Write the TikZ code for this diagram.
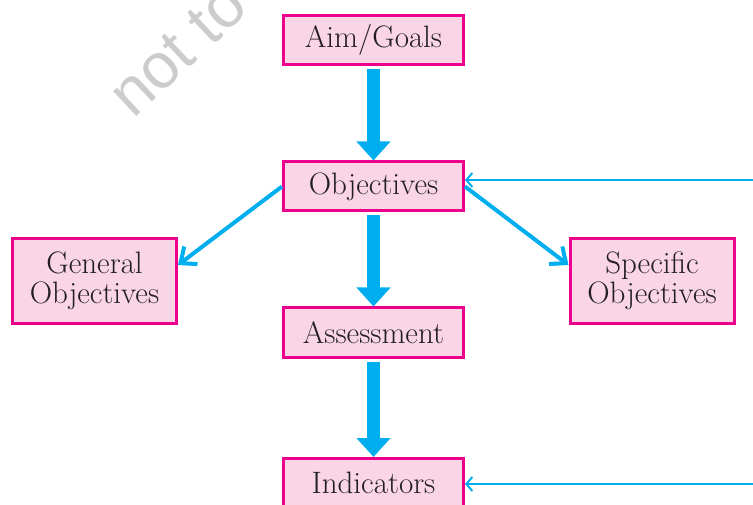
\documentclass[tikz,border=0pt]{standalone}
\usepackage{fontspec}
\newfontfamily\wmfont{Liberation Sans}
\usetikzlibrary{positioning,arrows.meta,calc}
\definecolor{boxpink}{HTML}{F9D5E6}
\definecolor{boxrim}{HTML}{EC008C}
\definecolor{flowblue}{HTML}{00AEEF}
\definecolor{inkgray}{HTML}{231F20}
\tikzset{
  stagebox/.style={draw=boxrim,fill=boxpink,line width=3pt,
    minimum width=180pt,minimum height=49pt,inner sep=2pt,align=center,
    text=inkgray,font=\fontsize{31}{30}\selectfont},
  sidebox/.style={stagebox,minimum width=164pt,minimum height=85pt},
  bigflow/.style={flowblue,line width=13pt,
    -{Triangle[width=33pt,length=19pt]},shorten <=3pt},
  branch/.style={flowblue,line width=4pt,
    -{Straight Barb[length=13pt,width=22pt]}},
  feedback/.style={flowblue,line width=2pt,
    -{Straight Barb[length=6pt,width=14pt]}},
  wmark/.style={rotate=43,anchor=base west,inner sep=0pt,text=black!20,
    font=\wmfont\fontsize{64}{64}\selectfont},
}

\begin{document}
\begin{tikzpicture}[x=1pt,y=-1pt]
  \useasboundingbox (0,0) rectangle (753,505);
  \node[wmark] (mark) at (133,120) {not to};
  % main column
  \node[stagebox] (aim) at (373.5,40) {Aim/Goals};
  \node[stagebox,below=94.5pt of aim] (obj) {Objectives};
  \node[stagebox,below=94pt of obj] (assess) {Assessment};
  \node[stagebox,below=98.5pt of assess] (ind) {Indicators};
  % the two kinds of objectives
  \node[sidebox] (gen) at (94.5,281) {General\\Objectives};
  \node[sidebox] (spec) at (652,281) {Specific\\Objectives};
  \draw[bigflow] (aim) -- (obj);
  \draw[bigflow] (obj) -- (assess);
  \draw[bigflow] (assess) -- (ind);
  \draw[branch] (obj.west) -- ([yshift=16pt]gen.east);
  \draw[branch] (obj.east) -- ([yshift=16pt]spec.west);
  % lines coming back in from the right
  \coordinate (fbtop) at (753,180);
  \coordinate (fblow) at (753,484);
  \draw[feedback] (fbtop) -- (obj.east |- fbtop);
  \draw[feedback] (fblow) -- (ind.east |- fblow);
\end{tikzpicture}
\end{document}
